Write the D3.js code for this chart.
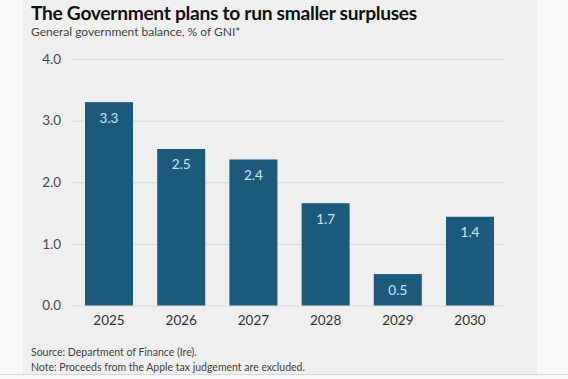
<!DOCTYPE html>
<html><head><meta charset="utf-8">
<script src="https://cdn.jsdelivr.net/npm/d3@7/dist/d3.min.js"></script>
<style>
html,body{margin:0;padding:0;background:#f8f8f8;}
svg{display:block;font-family:Lato,"DejaVu Sans",sans-serif;}
</style></head>
<body>
<svg id="chart" width="568" height="379"></svg>
<script>
const years = ["2025","2026","2027","2028","2029","2030"];
const balance = [3.3, 2.54, 2.37, 1.66, 0.51, 1.44];
const yTicks = [0, 1, 2, 3, 4];
const title = "The Government plans to run smaller surpluses";
const subtitle = "General government balance, % of GNI*";
const notes = ["Source: Department of Finance (Ire).", "Note: Proceeds from the Apple tax judgement are excluded."];

const svg = d3.select("#chart");
svg.append("rect").attr("x",0).attr("y",0).attr("width",568).attr("height",379).attr("fill","#f8f8f8");
svg.append("rect").attr("x",23).attr("y",0).attr("width",514).attr("height",374).attr("fill","#efefef");
svg.append("line").attr("x1",0).attr("x2",568).attr("y1",374.5).attr("y2",374.5).attr("stroke","#d8d8d8");

const x = d3.scaleBand().domain(years).range([72, 507]).paddingInner(0.335).paddingOuter(0.18);
const y = d3.scaleLinear().domain([0, 4]).range([305.5, 59]);

svg.append("text").attr("x",31).attr("y",20).text(title)
  .attr("font-size",19.2).attr("font-weight",700).attr("fill","#111").attr("letter-spacing","-0.3");
svg.append("text").attr("x",31).attr("y",36).text(subtitle)
  .attr("font-size",12).attr("fill","#444");

const yAxis = d3.axisLeft(y).tickValues(yTicks).tickFormat(d3.format(".1f")).tickSize(0).tickPadding(0);
const gy = svg.append("g").attr("transform","translate(61,0)").call(yAxis);
gy.select(".domain").remove();
gy.selectAll("text").attr("font-size",13.5).attr("fill","#4a4a4a").attr("font-family","Lato,sans-serif");

svg.append("g").selectAll("line").data(yTicks).join("line")
  .attr("x1",72).attr("x2",505).attr("y1",d=>y(d)+0.5).attr("y2",d=>y(d)+0.5)
  .attr("stroke","#d9d9d9").attr("stroke-width",1);

svg.append("g").selectAll("rect").data(balance).join("rect")
  .attr("x",(d,i)=>x(years[i])).attr("width",x.bandwidth())
  .attr("y",d=>y(d)).attr("height",d=>y(0)-y(d))
  .attr("fill","#1c5a7c");

svg.append("g").selectAll("text").data(balance).join("text")
  .attr("x",(d,i)=>x(years[i])+x.bandwidth()/2).attr("y",d=>y(d)+20.5)
  .attr("text-anchor","middle").attr("font-size",13.5).attr("fill","#d3e3ec")
  .text(d=>d3.format(".1f")(d));

const xAxis = d3.axisBottom(x).tickSize(0).tickPadding(0);
const gx = svg.append("g").attr("transform","translate(0,315)").call(xAxis);
gx.select(".domain").remove();
gx.selectAll("text").attr("font-size",13.5).attr("fill","#333").attr("font-family","Lato,sans-serif");

svg.append("g").selectAll("text").data(notes).join("text")
  .attr("x",31).attr("y",(d,i)=>356+i*14.5).attr("font-size",10.5).attr("fill","#444").text(d=>d);
</script>
</body></html>
